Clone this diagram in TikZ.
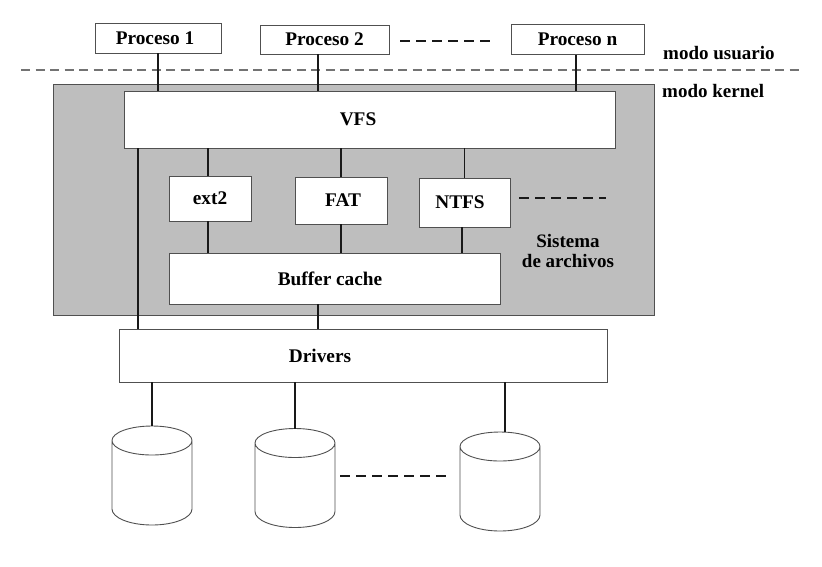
\documentclass[tikz,border=0pt]{standalone}
\usepackage{fontspec}
\setmainfont{Liberation Serif}
\usetikzlibrary{positioning}
\definecolor{kernelgray}{HTML}{BEBEBE}
\definecolor{edgegray}{HTML}{505050}
\newcommand{\drawdisk}[1]{%
  \draw[diskline] ([yshift=-14.5pt]#1.north west) -- ([yshift=16pt]#1.south west)
    arc[start angle=180, end angle=360, x radius=40pt, y radius=16pt]
    -- ([yshift=-14.5pt]#1.north east)
    arc[start angle=0, end angle=360, x radius=40pt, y radius=14.5pt];}

\begin{document}
\begin{tikzpicture}[
  x=1pt, y=-1pt,
  box/.style={draw=edgegray, line width=1pt, fill=white, inner sep=0pt, outer sep=0pt, font=\fontsize{19.3}{21}\selectfont\bfseries},
  link/.style={line width=1.5pt, black!90},
  dashline/.style={line width=1.5pt, black!90, dash pattern=on 10pt off 6pt},
  note/.style={inner sep=0pt, font=\fontsize{19}{20}\selectfont\bfseries, align=center},
  disk/.style={inner sep=0pt, outer sep=0pt, minimum width=80pt, minimum height=99pt},
  diskline/.style={draw=edgegray, line width=0.9pt}
]
  \useasboundingbox (0,0) rectangle (822,566);

  % Kernel area
  \node[draw=edgegray, line width=1pt, fill=kernelgray, inner sep=0pt, outer sep=0pt, minimum width=601pt, minimum height=231pt] (kernel) at (353.5,199.5) {};

  % Processes
  \node[box, minimum width=126pt, minimum height=30pt] (proc1) at (158,38) {\hspace*{-6pt}Proceso 1};
  \node[box, minimum width=129pt, minimum height=29pt, right=39pt of proc1, yshift=-1.5pt] (proc2) {Proceso 2};
  \node[box, minimum width=133pt, minimum height=30pt, right=122pt of proc2] (procn) {Proceso n};

  % Mode boundary
  \coordinate (modeL) at (21,70);
  \coordinate (modeR) at (802,70);
  \draw[line width=1.2pt, black!55, dash pattern=on 9pt off 5.5pt] (modeL) -- (modeR);
  \node[note, anchor=west] (usuario) at (663,53) {modo usuario};
  \node[note, anchor=west] (modokernel) at (662,91) {modo kernel};

  % VFS
  \node[box, minimum width=491pt, minimum height=57pt] (vfs) at (369.5,119.5) {\hspace*{-23pt}VFS};

  % File systems
  \node[box, minimum width=82pt, minimum height=45pt, below right=28pt and 45pt of vfs.south west] (ext2) {ext2};
  \node[box, minimum width=92pt, minimum height=47pt, right=44pt of ext2, yshift=-2pt] (fat) {\hspace*{4pt}FAT};
  \node[box, minimum width=91pt, minimum height=49pt, right=32pt of fat, yshift=-2pt] (ntfs) {\hspace*{-9pt}NTFS};
  \node[note] (sistema) at (568,251) {Sistema\\de archivos};

  % Buffer cache
  \node[box, minimum width=331pt, minimum height=51pt, below right=32pt and 0pt of ext2.south west] (buffer) {\hspace*{-9pt}Buffer cache};

  % Drivers
  \node[box, minimum width=488pt, minimum height=53pt, below=25pt of buffer, xshift=28.5pt] (drivers) {\hspace*{-86pt}Drivers};

  % Disks
  \node[disk] (disk1) at (152,475.5) {};
  \node[disk] (disk2) at (295,478) {};
  \node[disk] (disk3) at (500,481.5) {};
  \drawdisk{disk1}
  \drawdisk{disk2}
  \drawdisk{disk3}

  % Links
  \draw[link] (proc1.south) -- (proc1.south |- vfs.north);
  \draw[link] (318,0 |- proc2.south) -- (318,0 |- vfs.north);
  \draw[link] (576,0 |- procn.south) -- (576,0 |- vfs.north);
  \draw[link] (138,0 |- vfs.south) -- (138,0 |- drivers.north);
  \draw[link] (208,0 |- vfs.south) -- (208,0 |- ext2.north);
  \draw[link] (fat.north |- vfs.south) -- (fat.north);
  \draw[link] (ntfs.north |- vfs.south) -- (ntfs.north);
  \draw[link] (208,0 |- ext2.south) -- (208,0 |- buffer.north);
  \draw[link] (fat.south) -- (fat.south |- buffer.north);
  \draw[link] (462,0 |- ntfs.south) -- (462,0 |- buffer.north);
  \draw[link] (318,0 |- buffer.south) -- (318,0 |- drivers.north);
  \draw[link] (disk1.north |- drivers.south) -- (disk1.north);
  \draw[link] (disk2.north |- drivers.south) -- (disk2.north);
  \draw[link] (505,0 |- drivers.south) -- (505,0 |- disk3.north);

  % Continuation dashes
  \coordinate (dashA) at (400,41);
  \coordinate (dashB) at (493,41);
  \coordinate (dashC) at (519,198);
  \coordinate (dashD) at (606,198);
  \coordinate (dashE) at (340,476);
  \coordinate (dashF) at (449,476);
  \draw[dashline] (dashA) -- (dashB);
  \draw[dashline] (dashC) -- (dashD);
  \draw[dashline] (dashE) -- (dashF);
\end{tikzpicture}
\end{document}
